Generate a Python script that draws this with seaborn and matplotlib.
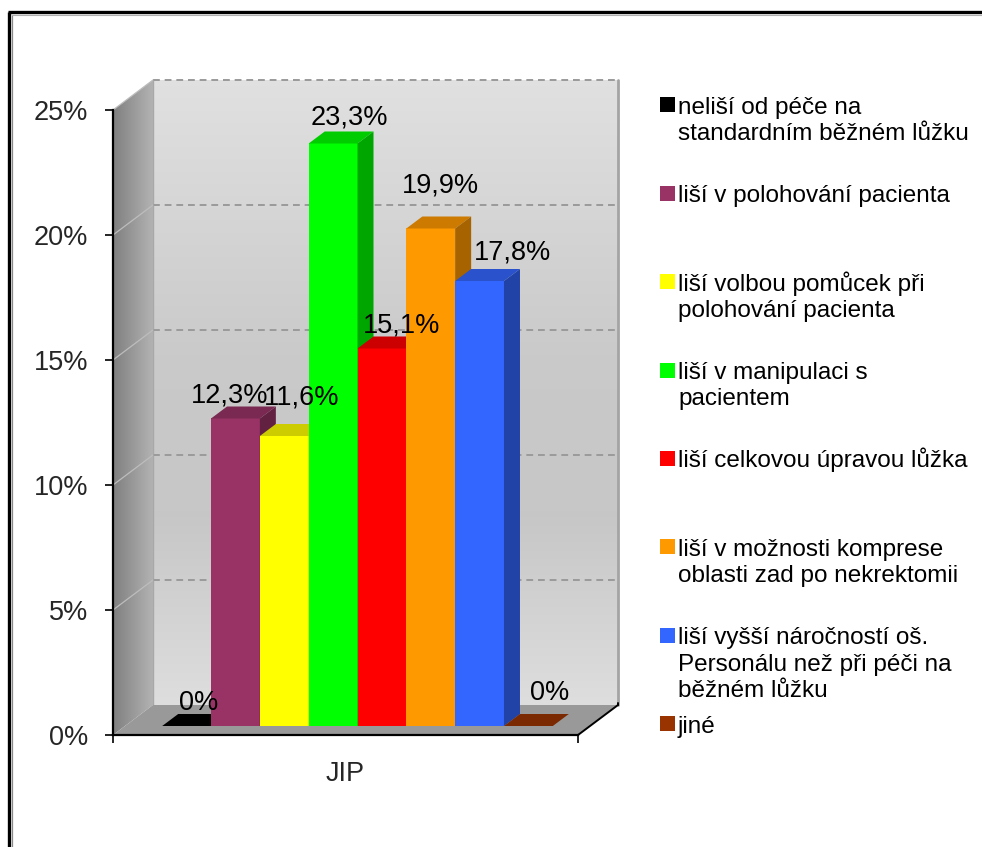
import numpy as np
import pandas as pd
import matplotlib
matplotlib.use("Agg")
import matplotlib.pyplot as plt
import seaborn as sns
from matplotlib.patches import Polygon, Rectangle
from matplotlib.transforms import ScaledTranslation
from matplotlib.colors import to_rgb

# ---- data -------------------------------------------------------------
group = ["JIP"]
answers = [
    "neliší od péče na\nstandardním běžném lůžku",
    "liší v polohování pacienta",
    "liší volbou pomůcek při\npolohování pacienta",
    "liší v manipulaci s\npacientem",
    "liší celkovou úpravou lůžka",
    "liší v možnosti komprese\noblasti zad po nekrektomii",
    "liší vyšší náročností oš.\nPersonálu než při péči na\nběžném lůžku",
    "jiné",
]
shares = [0.0, 12.3, 11.6, 23.3, 15.1, 19.9, 17.8, 0.0]
y_ticks = [0, 5, 10, 15, 20, 25]
y_tick_labels = ["0%", "5%", "10%", "15%", "20%", "25%"]
colors = ["#000000", "#993366", "#FFFF00", "#00FF00",
          "#FF0000", "#FF9900", "#3366FF", "#993300"]

# hand-placed shifts of the value labels (pixels, x right / y down)
label_nudge = [(4.5, -20), (-13.5, -19.5), (9.5, -35), (8.5, -23),
               (12, -19.5), (1.5, -40), (25, -25), (13.5, -30)]


def pct_text(v):
    return "0%" if v == 0 else f"{v:.1f}".replace(".", ",") + "%"


df = pd.DataFrame({"oddělení": group * len(answers),
                   "odpověď": answers,
                   "podíl": shares})

# ---- figure geometry (pixels) -----------------------------------------
W, H, DPI = 982, 847, 100
X0, X1, YT, YB = 113, 578, 110, 735      # front plane of the plot box
DX, DY = 40, 30                          # depth of the box
BDX, BDY = 16, 12                        # depth of a bar
BAR_SHIFT = (12, 9)                      # bars sit inside the box
FS_LEG = 17.5
FS_AX = 19.5

sns.set_theme(style="white")
plt.rcParams["font.family"] = ["Liberation Sans", "DejaVu Sans"]

fig = plt.figure(figsize=(W / DPI, H / DPI), dpi=DPI)
fig.patch.set_facecolor("white")

bg = fig.add_axes([0, 0, 1, 1], zorder=0)
bg.set_xlim(0, W)
bg.set_ylim(H, 0)
bg.axis("off")

# outer frame
bg.plot([9.5, 9.5], [12, H], color="black", lw=2.4, solid_capstyle="butt")
bg.plot([12.5, 12.5], [15, H], color="#8a8a8a", lw=0.9)
bg.plot([8.3, W], [12.5, 12.5], color="black", lw=2.4, solid_capstyle="butt")
bg.plot([12, W], [15, 15], color="#b0b0b0", lw=0.8)

# back wall with vertical gradient
stops_pos = [0.0, 0.45, 0.7, 1.0]
stops_col = [(0.88, 0.88, 0.88), (0.79, 0.79, 0.79),
             (0.78, 0.78, 0.78), (0.87, 0.87, 0.87)]
t = np.linspace(0, 1, 256)
grad = np.stack([np.interp(t, stops_pos, [c[k] for c in stops_col])
                 for k in range(3)], axis=-1)[:, None, :]
bg.imshow(grad, extent=(X0 + DX, X1 + DX, YB - DY, YT - DY),
          aspect="auto", origin="upper", zorder=1)
bg.plot([X1 + DX, X1 + DX], [YT - DY, YB - DY], color="#a4a4a4", lw=2, zorder=2)
bg.plot([X0 + DX, X0 + DX], [YT - DY, YB - DY], color="#a8a8a8", lw=1, zorder=2)

# left side wall with horizontal gradient
side_poly = Polygon([(X0, YT), (X0 + DX, YT - DY), (X0 + DX, YB - DY), (X0, YB)],
                    closed=True, facecolor="none", edgecolor="none")
bg.add_patch(side_poly)
hs = np.linspace(0.50, 0.70, 64)
side_grad = np.stack([hs, hs, hs], axis=-1)[None, :, :]
im = bg.imshow(side_grad, extent=(X0, X0 + DX, YB, YT - DY),
               aspect="auto", origin="upper", zorder=1)
im.set_clip_path(side_poly)

# floor
bg.add_patch(Polygon([(X0, YB), (X1, YB), (X1 + DX, YB - DY), (X0 + DX, YB - DY)],
                     closed=True, facecolor="#999999", edgecolor="none", zorder=2))
bg.plot([X1, X1 + DX], [YB, YB - DY], color="black", lw=1.4, zorder=3)
bg.plot([X1 + DX, X1 + DX], [YB - DY, YB - DY - 2], color="black", lw=1.4, zorder=3)

# gridlines on the back and side walls
scale = (YB - YT) / (y_ticks[-1] - y_ticks[0])
for v in y_ticks[1:]:
    yf = YB - v * scale
    bg.plot([X0 + DX, X1 + DX], [yf - DY, yf - DY], color="#9a9a9a",
            lw=1.4, ls=(0, (3.5, 2.5)), zorder=2)
    bg.plot([X0, X0 + DX], [yf, yf - DY], color="#bdbdbd", lw=0.9, zorder=2)

# legend
step = 88.4
line_step = 26.5
for i, (lab, col) in enumerate(zip(answers, colors)):
    yc = 105 + step * i
    bg.add_patch(Rectangle((660, yc - 7.5), 15, 15, facecolor=col,
                           edgecolor="none", zorder=3))
    for k, line in enumerate(lab.split("\n")):
        bg.text(678, yc + 8.7 + k * line_step, line, fontsize=FS_LEG,
                ha="left", va="baseline", color="black", zorder=3)

# ---- bars ---------------------------------------------------------------
ax = fig.add_axes([X0 / W, 1 - YB / H, (X1 - X0) / W, (YB - YT) / H], zorder=2)
ax.patch.set_visible(False)

sns.barplot(data=df, x="oddělení", y="podíl", hue="odpověď",
            hue_order=answers, palette=colors, saturation=1, width=0.84,
            dodge=True, errorbar=None, legend=False, linewidth=0, ax=ax)

ax.set_xlim(-0.5, 0.5)
ax.set_ylim(y_ticks[0], y_ticks[-1])
ax.set_yticks(y_ticks)
ax.set_yticklabels(y_tick_labels, fontsize=FS_AX)
ax.set_xlabel("")
ax.set_ylabel("")
ax.tick_params(axis="x", length=0, pad=19, labelsize=FS_AX)
ax.set_xticks([-0.5, 0.5], minor=True)
ax.tick_params(axis="x", which="minor", length=6, width=1.2, color="black",
               direction="out", bottom=True)
ax.tick_params(axis="y", length=6, width=1.2, color="black", direction="out",
               pad=12, left=True)
for s in ["top", "right"]:
    ax.spines[s].set_visible(False)
for s in ["left", "bottom"]:
    ax.spines[s].set_color("black")
    ax.spines[s].set_linewidth(1.6)

shift = ScaledTranslation(BAR_SHIFT[0] / DPI, BAR_SHIFT[1] / DPI, fig.dpi_scale_trans)
bar_tr = ax.transData + shift
inv = ax.transData.inverted()


def shade(c, f):
    r, g, b = to_rgb(c)
    return (r * f, g * f, b * f)


bars = [p for p in ax.patches if isinstance(p, Rectangle)]
for i, (p, col, val, (nx, ny)) in enumerate(zip(bars, colors, shares, label_nudge)):
    z = 2 + i * 0.1
    p.set_transform(bar_tr)
    p.set_zorder(z)
    p.set_linewidth(0)
    x, w, h = p.get_x(), p.get_width(), p.get_height()
    (xl, yb), (xr, yt) = bar_tr.transform([(x, 0), (x + w, h)])
    top = inv.transform([(xl, yt), (xr, yt), (xr + BDX, yt + BDY), (xl + BDX, yt + BDY)])
    ax.add_patch(Polygon(top, closed=True, facecolor=shade(col, 0.8),
                         edgecolor="none", zorder=z, clip_on=False))
    if h > 0:
        side = inv.transform([(xr, yb), (xr + BDX, yb + BDY),
                              (xr + BDX, yt + BDY), (xr, yt)])
        ax.add_patch(Polygon(side, closed=True, facecolor=shade(col, 0.65),
                             edgecolor="none", zorder=z, clip_on=False))
    # value label above the bar
    ax_anchor = inv.transform([((xl + xr) / 2 + BDX / 2, yt + BDY / 2)])[0]
    ax.annotate(pct_text(val), xy=ax_anchor, xycoords="data",
                xytext=(nx * 72 / DPI, -(ny + 9.5) * 72 / DPI),
                textcoords="offset points", ha="center", va="baseline",
                fontsize=FS_AX, color="black", zorder=5, annotation_clip=False)

fig.savefig("out.png", dpi=DPI, facecolor="white")
